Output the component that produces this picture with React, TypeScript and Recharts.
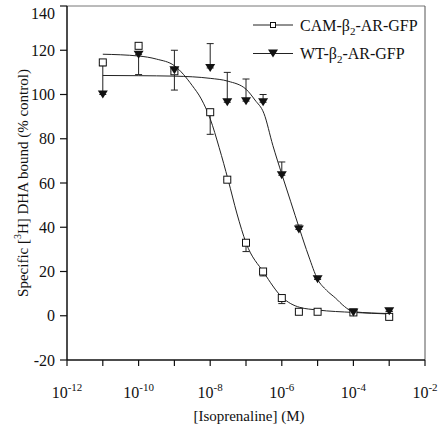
import React from 'react';
import {
  ComposedChart,
  Scatter,
  Line,
  XAxis,
  YAxis,
  ErrorBar,
  ReferenceLine,
  Legend,
  Label,
} from 'recharts';

const FONT = '"Liberation Serif", "Times New Roman", serif';

// measured points: concentration (M) vs specific binding (% control)
// error bars are [below, above] because the figure only draws one side
const camConc = [1e-11, 1e-10, 1e-9, 1e-8, 3e-8, 1e-7, 3e-7, 1e-6, 3e-6, 1e-5, 1e-4, 1e-3];
const camBound = [114.5, 122, 110.5, 92, 61.5, 33, 20, 8, 1.8, 1.8, 1.5, -0.5];
const camErr = [[0, 0], [0, 0], [0, 0], [10, 0], [0, 0], [4, 0], [2, 0], [2.5, 0], [0, 0], [0, 0], [0, 0], [0, 0]];

const wtConc = [1e-11, 1e-10, 1e-9, 1e-8, 3e-8, 1e-7, 3e-7, 1e-6, 3e-6, 1e-5, 1e-4, 1e-3];
const wtBound = [100, 118, 111, 112, 96.5, 97, 96.5, 63.5, 39, 16.5, 1.5, 2];
const wtErr = [[0, 13], [9, 0], [9, 9], [0, 11], [0, 13.5], [0, 10], [0, 3.5], [0, 6], [0, 2], [0, 0], [0, 0], [0, 0]];

// fitted curves
const camFitConc = [1e-11, 1e-10, 3.16e-10, 1e-9, 3.16e-9, 5.62e-9, 1e-8, 1.78e-8, 3.16e-8, 5.62e-8, 1e-7, 3.16e-7, 1e-6, 3.16e-6, 1e-5, 1e-4, 1e-3];
const camFit = [118.2, 117.4, 116, 113, 104, 98, 89, 76, 61.5, 46, 33, 19.5, 8.5, 3.8, 2.6, 1.5, 0.8];

const wtFitConc = [1e-11, 1e-10, 1e-9, 1e-8, 3.16e-8, 1e-7, 1.78e-7, 3.16e-7, 5.62e-7, 1e-6, 1.78e-6, 3.16e-6, 5.62e-6, 1e-5, 1.78e-5, 3.16e-5, 5.62e-5, 1e-4, 1e-3];
const wtFit = [108.6, 108.5, 108.3, 107.3, 106, 102.4, 97.5, 91.5, 77, 64, 51.5, 39, 27, 16.5, 11.5, 8, 4.2, 1.8, 1];

const xTicks = [1e-12, 1e-11, 1e-10, 1e-9, 1e-8, 1e-7, 1e-6, 1e-5, 1e-4, 1e-3, 1e-2];
const yTicks = [-20, 0, 20, 40, 60, 80, 100, 120, 140];

const camPoints = camConc.map((x, i) => ({ x, y: camBound[i], err: camErr[i] }));
const wtPoints = wtConc.map((x, i) => ({ x, y: wtBound[i], err: wtErr[i] }));

// both fitted curves in one table (gaps bridged with connectNulls)
const fitTable = Array.from(new Set([...camFitConc, ...wtFitConc]))
  .sort((a, b) => a - b)
  .map((x) => {
    const ci = camFitConc.indexOf(x);
    const wi = wtFitConc.indexOf(x);
    return { x, cam: ci >= 0 ? camFit[ci] : null, wt: wi >= 0 ? wtFit[wi] : null };
  });

const Square = ({ cx, cy, side = 7 }: any) => (
  <rect x={cx - side / 2} y={cy - side / 2} width={side} height={side} fill="#fff" stroke="#111" strokeWidth={1} />
);

const Triangle = ({ cx, cy }: any) => (
  <path d={`M${cx - 5},${cy - 4}L${cx + 5},${cy - 4}L${cx},${cy + 4}Z`} fill="#111" />
);

const XTick = (props: any) => {
  const { x, y, payload } = props;
  const exp = Math.round(Math.log10(payload.value));
  if (exp % 2 !== 0) return null;
  return (
    <text x={x} y={y + 30} textAnchor="middle" fontFamily={FONT} fontSize={16} fill="#111">
      10
      <tspan dy={-7} fontSize={11}>{exp}</tspan>
    </text>
  );
};

const YTick = (props: any) => {
  const { x, y, payload } = props;
  // the top label sits a little below its tick in the original
  const dy = payload.value === 140 ? 12.5 : 5.5;
  return (
    <text x={x} y={y + dy} textAnchor="end" fontFamily={FONT} fontSize={16} fill="#111">
      {payload.value}
    </text>
  );
};

const YTitle = ({ viewBox }: any) => {
  const x = viewBox.x + 28;
  const y = viewBox.y + viewBox.height / 2;
  return (
    <text x={x} y={y} transform={`rotate(-90, ${x}, ${y})`} textAnchor="middle" fontFamily={FONT} fontSize={15} fill="#111">
      Specific [<tspan dy={-7} fontSize={10}>3</tspan>
      <tspan dy={7}>H] DHA bound (% control)</tspan>
    </text>
  );
};

const XTitle = ({ viewBox }: any) => (
  <text x={viewBox.x + viewBox.width / 2 + 3} y={viewBox.y + 61} textAnchor="middle" fontFamily={FONT} fontSize={15} fill="#111">
    [Isoprenaline] (M)
  </text>
);

const legendRows = [
  { pre: 'CAM-β', post: '-AR-GFP', marker: 'square' },
  { pre: 'WT-β', post: '-AR-GFP', marker: 'triangle' },
];

const LegendBox = () => (
  <svg width={185} height={58} style={{ display: 'block' }}>
    {legendRows.map((row, i) => {
      const cy = 15 + i * 28.5;
      return (
        <g key={row.pre}>
          <line x1={3} x2={43} y1={cy} y2={cy} stroke="#222" strokeWidth={1} />
          {row.marker === 'square' ? <Square cx={23} cy={cy} side={5} /> : <Triangle cx={23} cy={cy} />}
          <text x={50} y={cy + 5.5} fontFamily={FONT} fontSize={16} fill="#111">
            {row.pre}
            <tspan dy={4} fontSize={11}>2</tspan>
            <tspan dy={-4}>{row.post}</tspan>
          </text>
        </g>
      );
    })}
  </svg>
);

export default function App() {
  return (
    <div style={{ position: 'absolute', left: 0, top: 0, width: 440, height: 430, background: '#fff' }}>
      <ComposedChart width={440} height={430} data={fitTable} margin={{ top: 6, right: 15, bottom: 0, left: 0 }}>
        <XAxis
          dataKey="x"
          type="number"
          scale="log"
          domain={[1e-12, 1e-2]}
          ticks={xTicks}
          interval={0}
          allowDataOverflow
          height={70}
          tickSize={6}
          tick={<XTick />}
          axisLine={{ stroke: '#111', strokeWidth: 1.5 }}
          tickLine={{ stroke: '#111', strokeWidth: 1.2 }}
        >
          <Label content={<XTitle />} />
        </XAxis>
        <YAxis
          dataKey="y"
          type="number"
          domain={[-20, 140]}
          ticks={yTicks}
          interval={0}
          allowDataOverflow
          width={67}
          tickSize={7}
          tickMargin={5}
          tick={<YTick />}
          axisLine={{ stroke: '#111', strokeWidth: 1.5 }}
          tickLine={{ stroke: '#111', strokeWidth: 1.2 }}
        >
          <Label content={<YTitle />} />
        </YAxis>
        <ReferenceLine y={140} stroke="#777" strokeWidth={1} />
        <ReferenceLine x={1e-2} stroke="#555" strokeWidth={1} />
        <Legend
          layout="vertical"
          align="center"
          verticalAlign="middle"
          content={<LegendBox />}
          wrapperStyle={{ top: 10, left: 250, width: 185 }}
        />
        <Line dataKey="cam" type="monotone" connectNulls dot={false} activeDot={false} stroke="#222" strokeWidth={1} isAnimationActive={false} legendType="none" />
        <Line dataKey="wt" type="monotone" connectNulls dot={false} activeDot={false} stroke="#222" strokeWidth={1} isAnimationActive={false} legendType="none" />
        <Scatter data={camPoints} shape={<Square />} isAnimationActive={false}>
          <ErrorBar dataKey="err" direction="y" width={3.5} stroke="#222" strokeWidth={1} />
        </Scatter>
        <Scatter data={wtPoints} shape={<Triangle />} isAnimationActive={false}>
          <ErrorBar dataKey="err" direction="y" width={3.5} stroke="#222" strokeWidth={1} />
        </Scatter>
      </ComposedChart>
    </div>
  );
}
